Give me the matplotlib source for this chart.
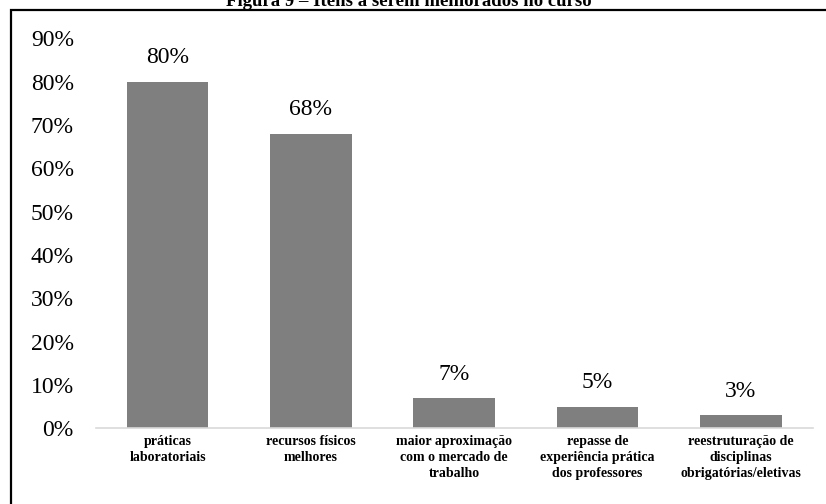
import matplotlib.pyplot as plt
from matplotlib.patches import Rectangle

# Itens a serem melhorados no curso (% de respostas)
categorias = [
    "práticas\nlaboratoriais",
    "recursos físicos\nmelhores",
    "maior aproximação\ncom o mercado de\ntrabalho",
    "repasse de\nexperiência prática\ndos professores",
    "reestruturação de\ndisciplinas\nobrigatórias/eletivas",
]
percentuais = [80, 68, 7, 5, 3]
yticks = [0, 10, 20, 30, 40, 50, 60, 70, 80, 90]

plt.rcParams['font.family'] = ['Liberation Serif', 'DejaVu Serif']

W, H = 826, 504
fig = plt.figure(figsize=(W / 100, H / 100), dpi=100)
ax = fig.add_axes([96 / W, 1 - 428.3 / H, (812.5 - 96) / W, (428.3 - 38.3) / H])

x = range(len(categorias))
ax.bar(x, percentuais, width=0.57, color='#7f7f7f')

for xi, v in zip(x, percentuais):
    ax.annotate(f"{v}%", (xi, v), xytext=(0, 9.5), textcoords='offset points',
                ha='center', va='bottom', fontsize=17)

ax.set_xlim(-0.5, len(categorias) - 0.5)
ax.set_ylim(0, 90)
ax.set_yticks(yticks)
ax.set_yticklabels([f"{t}%" for t in yticks], fontsize=17)
ax.set_xticks(list(x))
ax.set_xticklabels(categorias, fontsize=10, fontweight='bold', linespacing=1.3)
ax.tick_params(axis='both', length=0)
ax.tick_params(axis='y', pad=16)
ax.tick_params(axis='x', pad=5)

for s in ['top', 'right', 'left']:
    ax.spines[s].set_visible(False)
ax.spines['bottom'].set_color('#d9d9d9')
ax.spines['bottom'].set_linewidth(1.2)

# moldura da figura
fig.patches.append(Rectangle((11 / W, -0.1), 1.2, 1.1 - 10 / H, transform=fig.transFigure,
                             fill=False, edgecolor='black', linewidth=1.6))

fig.text(409 / W, 1 - 6 / H, "Figura 9 – Itens a serem melhorados no curso",
         ha='center', va='baseline', fontsize=13.5, fontweight='bold')

fig.savefig("out.png", dpi=100)
